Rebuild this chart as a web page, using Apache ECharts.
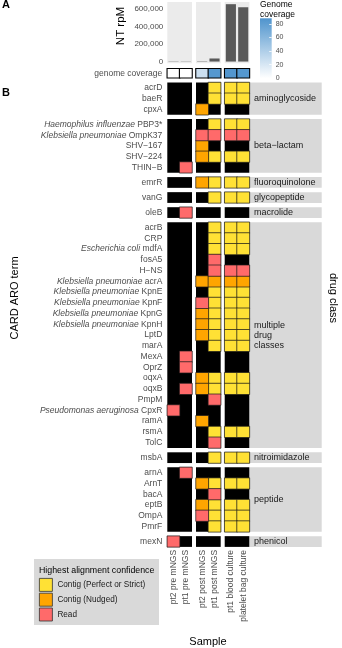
<!DOCTYPE html>
<html><head><meta charset="utf-8">
<script src="https://cdn.jsdelivr.net/npm/echarts@6/dist/echarts.min.js"></script>
<style>html,body{margin:0;padding:0;background:#fff}#c{width:342px;height:648px}</style>
</head><body><div id="c"></div>
<script>
// ---------------- data ----------------
const samples = ['pt2 pre mNGS', 'pt1 pre mNGS', 'pt2 post mNGS', 'pt1 post mNGS', 'pt1 blood culture', 'platelet bag culture'];
const ntRpm = [3000, 2500, 4000, 35000, 655000, 620000];
const rpmTicks = [0, 200000, 400000, 600000];
const genomeCoverage = [0.2, 0.2, 26, 85, 86, 85];
const coverageTicks = [0, 20, 40, 60, 80];
const confidenceLevels = ['Contig (Perfect or Strict)', 'Contig (Nudged)', 'Read'];
const confidenceCodes = ['Y', 'O', 'R'];
const drugClasses = ['aminoglycoside', 'beta\u2212lactam', 'fluoroquinolone', 'glycopeptide', 'macrolide',
  'multiple\ndrug\nclasses', 'nitroimidazole', 'peptide', 'phenicol'];
const aroTerms = [
  ['acrD', 'baeR', 'cpxA'],
  ['Haemophilus influenzae PBP3*', 'Klebsiella pneumoniae OmpK37', 'SHV\u2212167', 'SHV\u2212224', 'THIN\u2212B'],
  ['emrR'],
  ['vanG'],
  ['oleB'],
  ['acrB', 'CRP', 'Escherichia coli mdfA', 'fosA5', 'H\u2212NS', 'Klebsiella pneumoniae acrA',
   'Klebsiella pneumoniae KpnE', 'Klebsiella pneumoniae KpnF', 'Klebsiella pneumoniae KpnG',
   'Klebsiella pneumoniae KpnH', 'LptD', 'marA', 'MexA', 'OprZ', 'oqxA', 'oqxB', 'PmpM',
   'Pseudomonas aeruginosa CpxR', 'ramA', 'rsmA', 'TolC'],
  ['msbA'],
  ['arnA', 'ArnT', 'bacA', 'eptB', 'OmpA', 'PmrF'],
  ['mexN']
];
// one code per sample (order of `samples`): Y contig perfect/strict, O contig nudged, R read, . none
const hitCodes = [
  ['...YYY', '...YYY', '..O...'],
  ['...YYY', '..RRRR', '..O...', '..OYYY', '.R....'],
  ['..OYYY'],
  ['...YYY'],
  ['.R....'],
  ['...YYY', '...YYY', '...YYY', '...R..', '...RRR', '..OOOO', '...YYY', '..RYYY', '..OYYY', '..OYYY',
   '..OYYY', '...YYY', '.R....', '.R....', '..OYYY', '.ROYYY', '...R..', 'R.....', '..O...', '...YYY', '...R..'],
  ['...YYY'],
  ['.R....', '..OYYY', '...R..', '..OYYY', '..RYYY', '...YYY'],
  ['R.....']
];

// ---------------- style / layout ----------------
const FONT = '"Liberation Sans", Arial, Helvetica, sans-serif';
const confColors = ['#FFE135', '#FFA500', '#FF6A6A'];
const panelLeft = [167.3, 196.0, 224.7], panelW = 24.7;
const heatTop = 82.5, rowH = 10.75, groupGap = 4.3;
const stripLeft = 249.9, stripRight = 321.7;
const axisGrey = '#4d4d4d';
const labelSize = 8.5;

const grids = [], xAxes = [], yAxes = [], series = [], graphics = [];
function addGrid(g) { grids.push(Object.assign({ containLabel: false, outerBoundsMode: 'none', borderWidth: 0 }, g)); return grids.length - 1; }

// ---- Panel A: bars ----
for (let p = 0; p < 3; p++) {
  const gi = addGrid({ left: panelLeft[p], top: 2, width: panelW, height: 61.3, show: true, backgroundColor: '#ebebeb' });
  xAxes.push({ type: 'category', gridIndex: gi, data: [samples[2 * p], samples[2 * p + 1]], show: false });
  yAxes.push({ type: 'value', gridIndex: gi, min: -20000, max: 680000,
    splitLine: { show: false }, axisLine: { show: false }, axisTick: { show: false },
    axisLabel: { show: p === 0, customValues: rpmTicks, fontSize: 8, color: axisGrey, margin: 4, fontFamily: FONT } });
  series.push({ type: 'bar', xAxisIndex: xAxes.length - 1, yAxisIndex: yAxes.length - 1, silent: true,
    data: [ntRpm[2 * p], ntRpm[2 * p + 1]], barWidth: '82%', itemStyle: { color: '#595959' } });
}
// ---- genome coverage tiles ----
const covSeries = [];
for (let p = 0; p < 3; p++) {
  const gi = addGrid({ left: panelLeft[p], top: 68.8, width: panelW, height: 9, show: true, backgroundColor: '#fff' });
  xAxes.push({ type: 'category', gridIndex: gi, data: [samples[2 * p], samples[2 * p + 1]], show: false });
  yAxes.push({ type: 'category', gridIndex: gi, data: ['genome coverage'], axisLine: { show: false }, axisTick: { show: false },
    axisLabel: { show: p === 0, fontSize: labelSize, color: axisGrey, margin: 5, fontFamily: FONT } });
  covSeries.push(series.length);
  series.push({ type: 'heatmap', xAxisIndex: xAxes.length - 1, yAxisIndex: yAxes.length - 1, silent: true,
    data: [[0, 0, genomeCoverage[2 * p]], [1, 0, genomeCoverage[2 * p + 1]]],
    itemStyle: { borderColor: '#000', borderWidth: 1.1 } });
}
// ---- coverage colourbar ----
{
  const gi = addGrid({ left: 260, top: 18.3, width: 11.7, height: 60, show: true,
    backgroundColor: { type: 'linear', x: 0, y: 0, x2: 0, y2: 1, colorStops: [{ offset: 0, color: '#4F94CD' }, { offset: 1, color: '#ffffff' }] } });
  xAxes.push({ type: 'category', gridIndex: gi, data: [''], show: false });
  yAxes.push({ type: 'value', gridIndex: gi, min: 0, max: 88, position: 'right',
    splitLine: { show: false }, axisLine: { show: false },
    axisTick: { show: true, customValues: coverageTicks, inside: true, length: 2.5, lineStyle: { color: '#fff', width: 0.8 } },
    axisLabel: { customValues: coverageTicks, fontSize: 7, color: axisGrey, margin: 4, fontFamily: FONT } });
}
// ---- Panel B: heatmap groups ----
function termLabel(v) {
  const parts = v.split(' ');
  if (parts.length === 3) return '{i|' + parts[0] + ' ' + parts[1] + '}{n| ' + parts[2] + '}';
  return '{n|' + v + '}';
}
let rowsBefore = 0;
for (let g = 0; g < aroTerms.length; g++) {
  const n = aroTerms[g].length;
  const top = heatTop + rowsBefore * rowH + g * groupGap;
  const h = n * rowH;
  for (let p = 0; p < 3; p++) {
    const gi = addGrid({ left: panelLeft[p], top: top, width: panelW, height: h, show: true, backgroundColor: '#000' });
    const last = g === aroTerms.length - 1;
    xAxes.push({ type: 'category', gridIndex: gi, data: [samples[2 * p], samples[2 * p + 1]],
      axisLine: { show: false }, axisTick: { show: false },
      axisLabel: { show: last, rotate: 90, fontSize: labelSize, color: axisGrey, margin: 3, fontFamily: FONT, interval: 0 } });
    yAxes.push({ type: 'category', gridIndex: gi, data: aroTerms[g], inverse: true,
      axisLine: { show: false }, axisTick: { show: false },
      axisLabel: { show: p === 0, interval: 0, margin: 5, formatter: termLabel,
        rich: { i: { fontStyle: 'italic', fontSize: labelSize, color: axisGrey, fontFamily: FONT },
                n: { fontSize: labelSize, color: axisGrey, fontFamily: FONT } } } });
    for (let k = 0; k < confidenceCodes.length; k++) {
      const data = [];
      hitCodes[g].forEach((row, r) => {
        for (let c = 0; c < 2; c++) if (row[2 * p + c] === confidenceCodes[k]) data.push([c, r, 1]);
      });
      series.push({ type: 'heatmap', name: confidenceLevels[k], xAxisIndex: xAxes.length - 1, yAxisIndex: yAxes.length - 1,
        silent: true, data: data, itemStyle: { color: confColors[k], borderColor: '#1a1a1a', borderWidth: 0.7 } });
    }
  }
  graphics.push({ type: 'rect', shape: { x: stripLeft, y: top, width: stripRight - stripLeft, height: h }, style: { fill: '#d9d9d9' } });
  graphics.push({ type: 'text', x: stripLeft + 4, y: top + h / 2,
    style: { text: drugClasses[g], fontSize: 9, fill: '#1a1a1a', fontFamily: FONT, verticalAlign: 'middle', align: 'left', lineHeight: 10 } });
  rowsBefore += n;
}
// ---- titles / labels ----
function txt(text, x, y, o) {
  graphics.push({ type: 'text', x: x, y: y, rotation: (o && o.rot) || 0,
    style: Object.assign({ text: text, fontFamily: FONT, fill: '#000', align: 'center', verticalAlign: 'middle', fontSize: 11 }, (o && o.style) || {}) });
}
txt('A', 2, 5, { style: { align: 'left', fontWeight: 'bold', fontSize: 11 } });
txt('B', 2, 93, { style: { align: 'left', fontWeight: 'bold', fontSize: 11 } });
txt('NT rpM', 121, 26, { rot: Math.PI / 2, style: { fontSize: 11.5 } });
txt('CARD ARO term', 15, 298, { rot: Math.PI / 2 });
txt('drug class', 333, 298, { rot: -Math.PI / 2 });
txt('Sample', 208, 642);
txt('Genome\ncoverage', 260, 0, { style: { align: 'left', verticalAlign: 'top', fontSize: 8.5, lineHeight: 9.5 } });
// legend box
graphics.push({ type: 'rect', z: -1, shape: { x: 34, y: 559, width: 125, height: 66 }, style: { fill: '#d9d9d9' } });
txt('Highest alignment confidence', 39, 570.7, { style: { align: 'left', fontSize: 8.8 } });

const chart = echarts.init(document.getElementById('c'), null, { renderer: 'canvas' });
chart.setOption({
  animation: false,
  backgroundColor: '#fff',
  textStyle: { fontFamily: FONT },
  grid: grids, xAxis: xAxes, yAxis: yAxes, series: series,
  visualMap: [{ type: 'continuous', show: false, seriesIndex: covSeries, dimension: 2, min: 0, max: 88,
    inRange: { color: ['#ffffff', '#4F94CD'] } }],
  legend: { orient: 'vertical', left: 39, top: 578, padding: 0, itemWidth: 13, itemHeight: 13, itemGap: 1,
    icon: 'rect', selectedMode: false, data: confidenceLevels,
    itemStyle: { borderColor: '#333', borderWidth: 0.8 },
    textStyle: { fontSize: 8.2, color: '#1a1a1a', fontFamily: FONT } },
  graphic: graphics
});
</script></body></html>
